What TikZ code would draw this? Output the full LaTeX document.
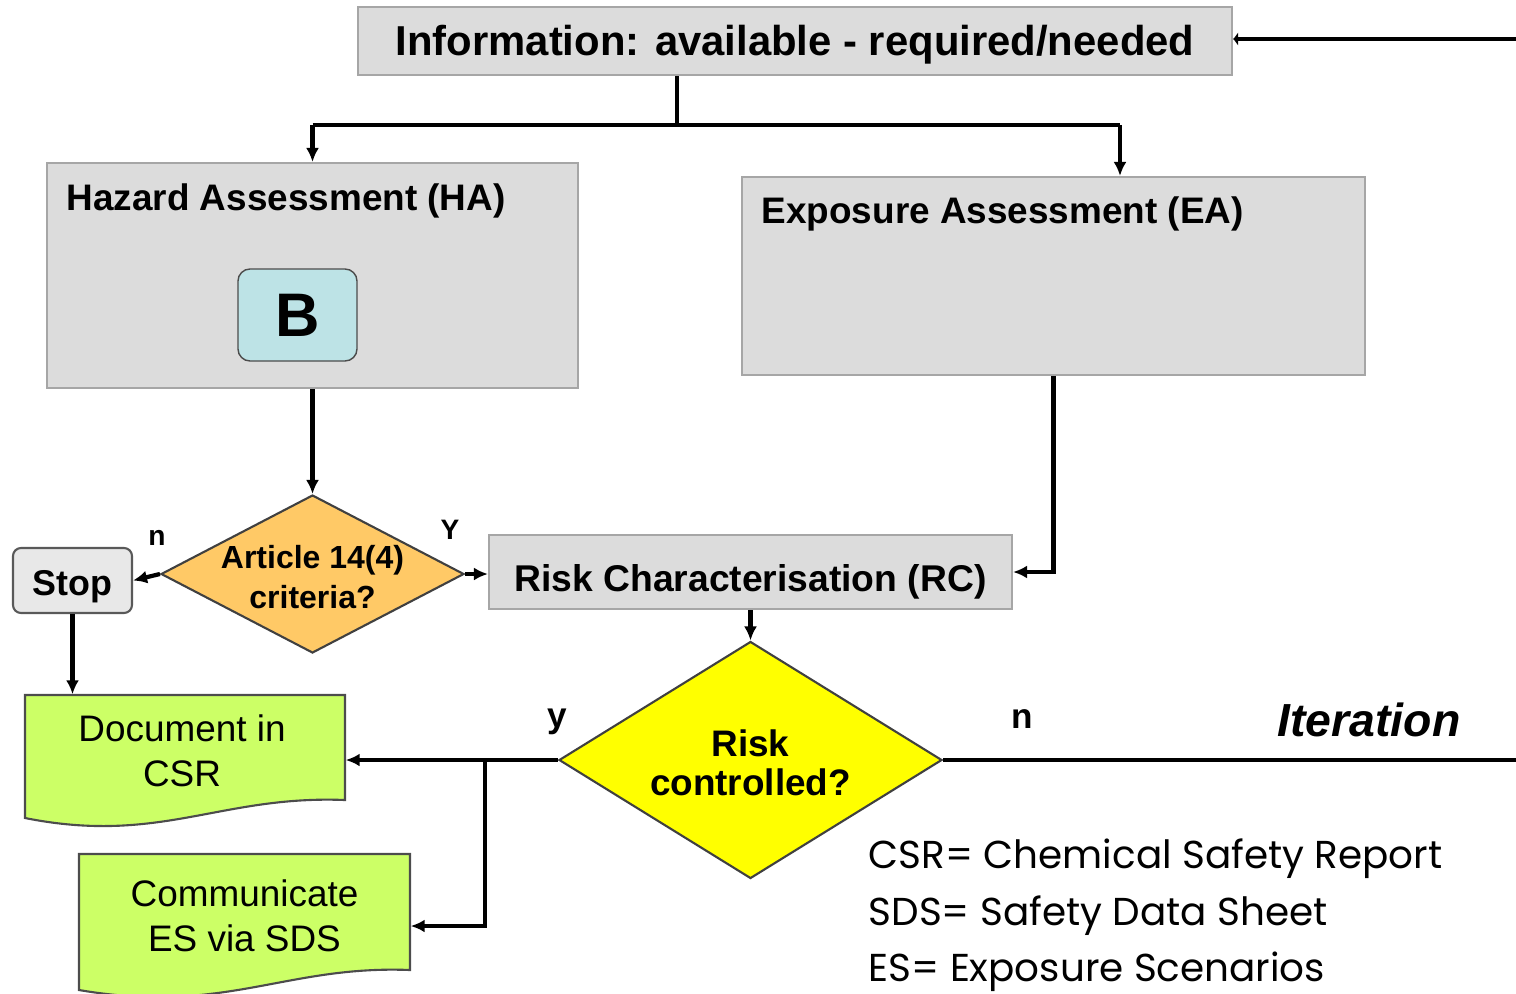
\documentclass[tikz,border=0pt]{standalone}
\usepackage{fontspec}
\setmainfont{Liberation Sans}
\newfontfamily\legendfont{Poppins}
\usetikzlibrary{arrows.meta, positioning, shapes.geometric, calc}
\definecolor{boxgray}{HTML}{DCDCDC}
\definecolor{edgegray}{HTML}{A6A6A6}
\definecolor{stopgray}{HTML}{E8E8E8}
\definecolor{bcyan}{HTML}{BDE3E6}
\definecolor{critorange}{HTML}{FFC966}
\definecolor{riskyellow}{HTML}{FFFF00}
\definecolor{docgreen}{HTML}{CCFF66}

\begin{document}
\begin{tikzpicture}[
    graybox/.style={draw=edgegray, fill=boxgray, line width=0.6pt, inner sep=0pt},
    headtext/.style={font=\fontsize{10.5}{12}\selectfont\bfseries, inner sep=0pt, anchor=west},
    diam/.style={diamond, draw=black!75, line width=0.6pt, inner sep=0pt},
    conn/.style={line width=1.2pt},
    arr/.style={conn, -{Latex[length=1.4mm,width=1.3mm]}},
    doctext/.style={font=\fontsize{10.5}{12.9}\selectfont, align=center, inner sep=0pt},
    yn/.style={font=\fontsize{8}{9}\selectfont\bfseries, inner sep=0pt}
  ]
  \useasboundingbox (0,0) rectangle (15.16,-9.93);

  % top box and the two assessments
  \node[graybox, minimum width=8.74cm, minimum height=0.68cm, text height=10.5pt, text depth=2pt,
        font=\fontsize{11.9}{14}\selectfont\bfseries] (info) at (7.95,-0.41)
        {Information: available - required/needed};
  \node[graybox, minimum width=5.31cm, minimum height=2.25cm] (ha) at (3.125,-2.755) {};
  \node[headtext] (halabel) at (0.66,-2.01) {Hazard Assessment (HA)};
  \node[draw=black!70, fill=bcyan, rounded corners=0.12cm, minimum width=1.19cm,
        minimum height=0.92cm, font=\fontsize{17.5}{20}\selectfont\bfseries] (bbox) at (2.975,-3.15) {B};
  \node[graybox, minimum width=6.23cm, minimum height=1.98cm] (ea) at (10.535,-2.76) {};
  \node[headtext] (ealabel) at (7.61,-2.14) {Exposure Assessment (EA)};

  \coordinate (split) at (6.77,-1.25);
  \coordinate (hadrop) at (3.125,-1.25);
  \coordinate (eadrop) at (11.2,-1.25);
  \draw[conn] (info.south -| split) -- (split);
  \draw[conn] (hadrop) -- (eadrop);
  \draw[arr] (hadrop) -- (ha.north);
  \draw[arr] (eadrop) -- (eadrop |- ea.north);

  % decisions
  \node[diam, fill=critorange, minimum width=3.03cm, minimum height=1.58cm,
        label={[font=\fontsize{9.1}{11.4}\selectfont\bfseries, align=center, yshift=-0.035cm]center:Article 14(4)\\criteria?}]
        (crit) at (3.125,-5.74) {};
  \node[draw=black!65, fill=stopgray, rounded corners=0.08cm, line width=0.6pt,
        minimum width=1.19cm, minimum height=0.65cm, text height=10pt, text depth=1.3pt,
        font=\fontsize{10.2}{12}\selectfont\bfseries] (stop) at (0.725,-5.805) {Stop};
  \node[graybox, minimum width=5.23cm, minimum height=0.74cm, text height=12.5pt, text depth=1.26pt,
        font=\fontsize{10.6}{12}\selectfont\bfseries] (rc) at (7.505,-5.72) {Risk Characterisation (RC)};
  \node[diam, fill=riskyellow, minimum width=3.83cm, minimum height=2.37cm,
        label={[font=\fontsize{10.5}{11.1}\selectfont\bfseries, align=center, yshift=-0.025cm]center:Risk\\controlled?}]
        (risk) at (7.505,-7.6) {};

  \node[yn] (critn) at (1.57,-5.38) {n};
  \node[yn] (crity) at (4.5,-5.3) {Y};
  \node[yn, font=\fontsize{10}{12}\selectfont\bfseries] (riskyes) at (5.57,-7.22) {y};
  \node[yn, font=\fontsize{10}{12}\selectfont\bfseries] (riskno) at (10.22,-7.19) {n};
  \node[font=\fontsize{13.2}{15}\selectfont\bfseries\itshape, inner sep=0pt] (iter) at (13.69,-7.2) {Iteration};

  \draw[arr] (ha.south) -- (crit.north);
  \draw[arr] (crit.west) -- (stop.east);
  \draw[arr] (crit.east) -- (crit.east -| rc.west);
  \draw[arr] (ea.south) |- (rc.east);
  \draw[arr] (rc.south) -- (risk.north);

  % documents
  \filldraw[fill=docgreen, draw=black!70, line width=0.6pt]
    (0.25,-6.95) -- (3.45,-6.95) -- (3.45,-8.0)
    .. controls (2.2,-7.95) and (1.6,-8.45) .. (0.25,-8.18) -- cycle;
  \node[minimum width=3.2cm, minimum height=1.05cm, inner sep=0pt,
        label={[doctext, xshift=-0.03cm, yshift=-0.035cm]center:Document in\\CSR}] (doc) at (1.85,-7.475) {};
  \filldraw[fill=docgreen, draw=black!70, line width=0.6pt]
    (0.79,-8.54) -- (4.1,-8.54) -- (4.1,-9.7)
    .. controls (2.85,-9.65) and (2.25,-10.15) .. (0.79,-9.9) -- cycle;
  \node[minimum width=3.31cm, minimum height=1.16cm, inner sep=0pt,
        label={[doctext, yshift=-0.035cm]center:Communicate\\ES via SDS}] (comm) at (2.445,-9.12) {};

  \coordinate (branch) at (4.85,-7.6);
  \draw[arr] (stop.south) -- (stop.south |- doc.north);
  \draw[arr] (risk.west) -- (doc.east |- risk.west);
  \draw[arr] (branch) |- ($(comm.east)+(0,-0.14)$);

  % iteration loop back to the top
  \coordinate (loopS) at (15.16,-7.6);
  \coordinate (loopN) at (15.16,-0.39);
  \draw[conn] (risk.east) -- (loopS);
  \draw[conn, -{Latex[length=0.5mm,width=1.4mm]}] (loopN) -- (loopN -| info.east);

  % legend
  \node[anchor=north west, align=left, inner sep=0pt, font=\legendfont\fontsize{11.07}{16.1}\selectfont]
    (legend) at (8.68,-8.38) {CSR= Chemical Safety Report\\SDS= Safety Data Sheet\\ES= Exposure Scenarios};
\end{tikzpicture}
\end{document}
